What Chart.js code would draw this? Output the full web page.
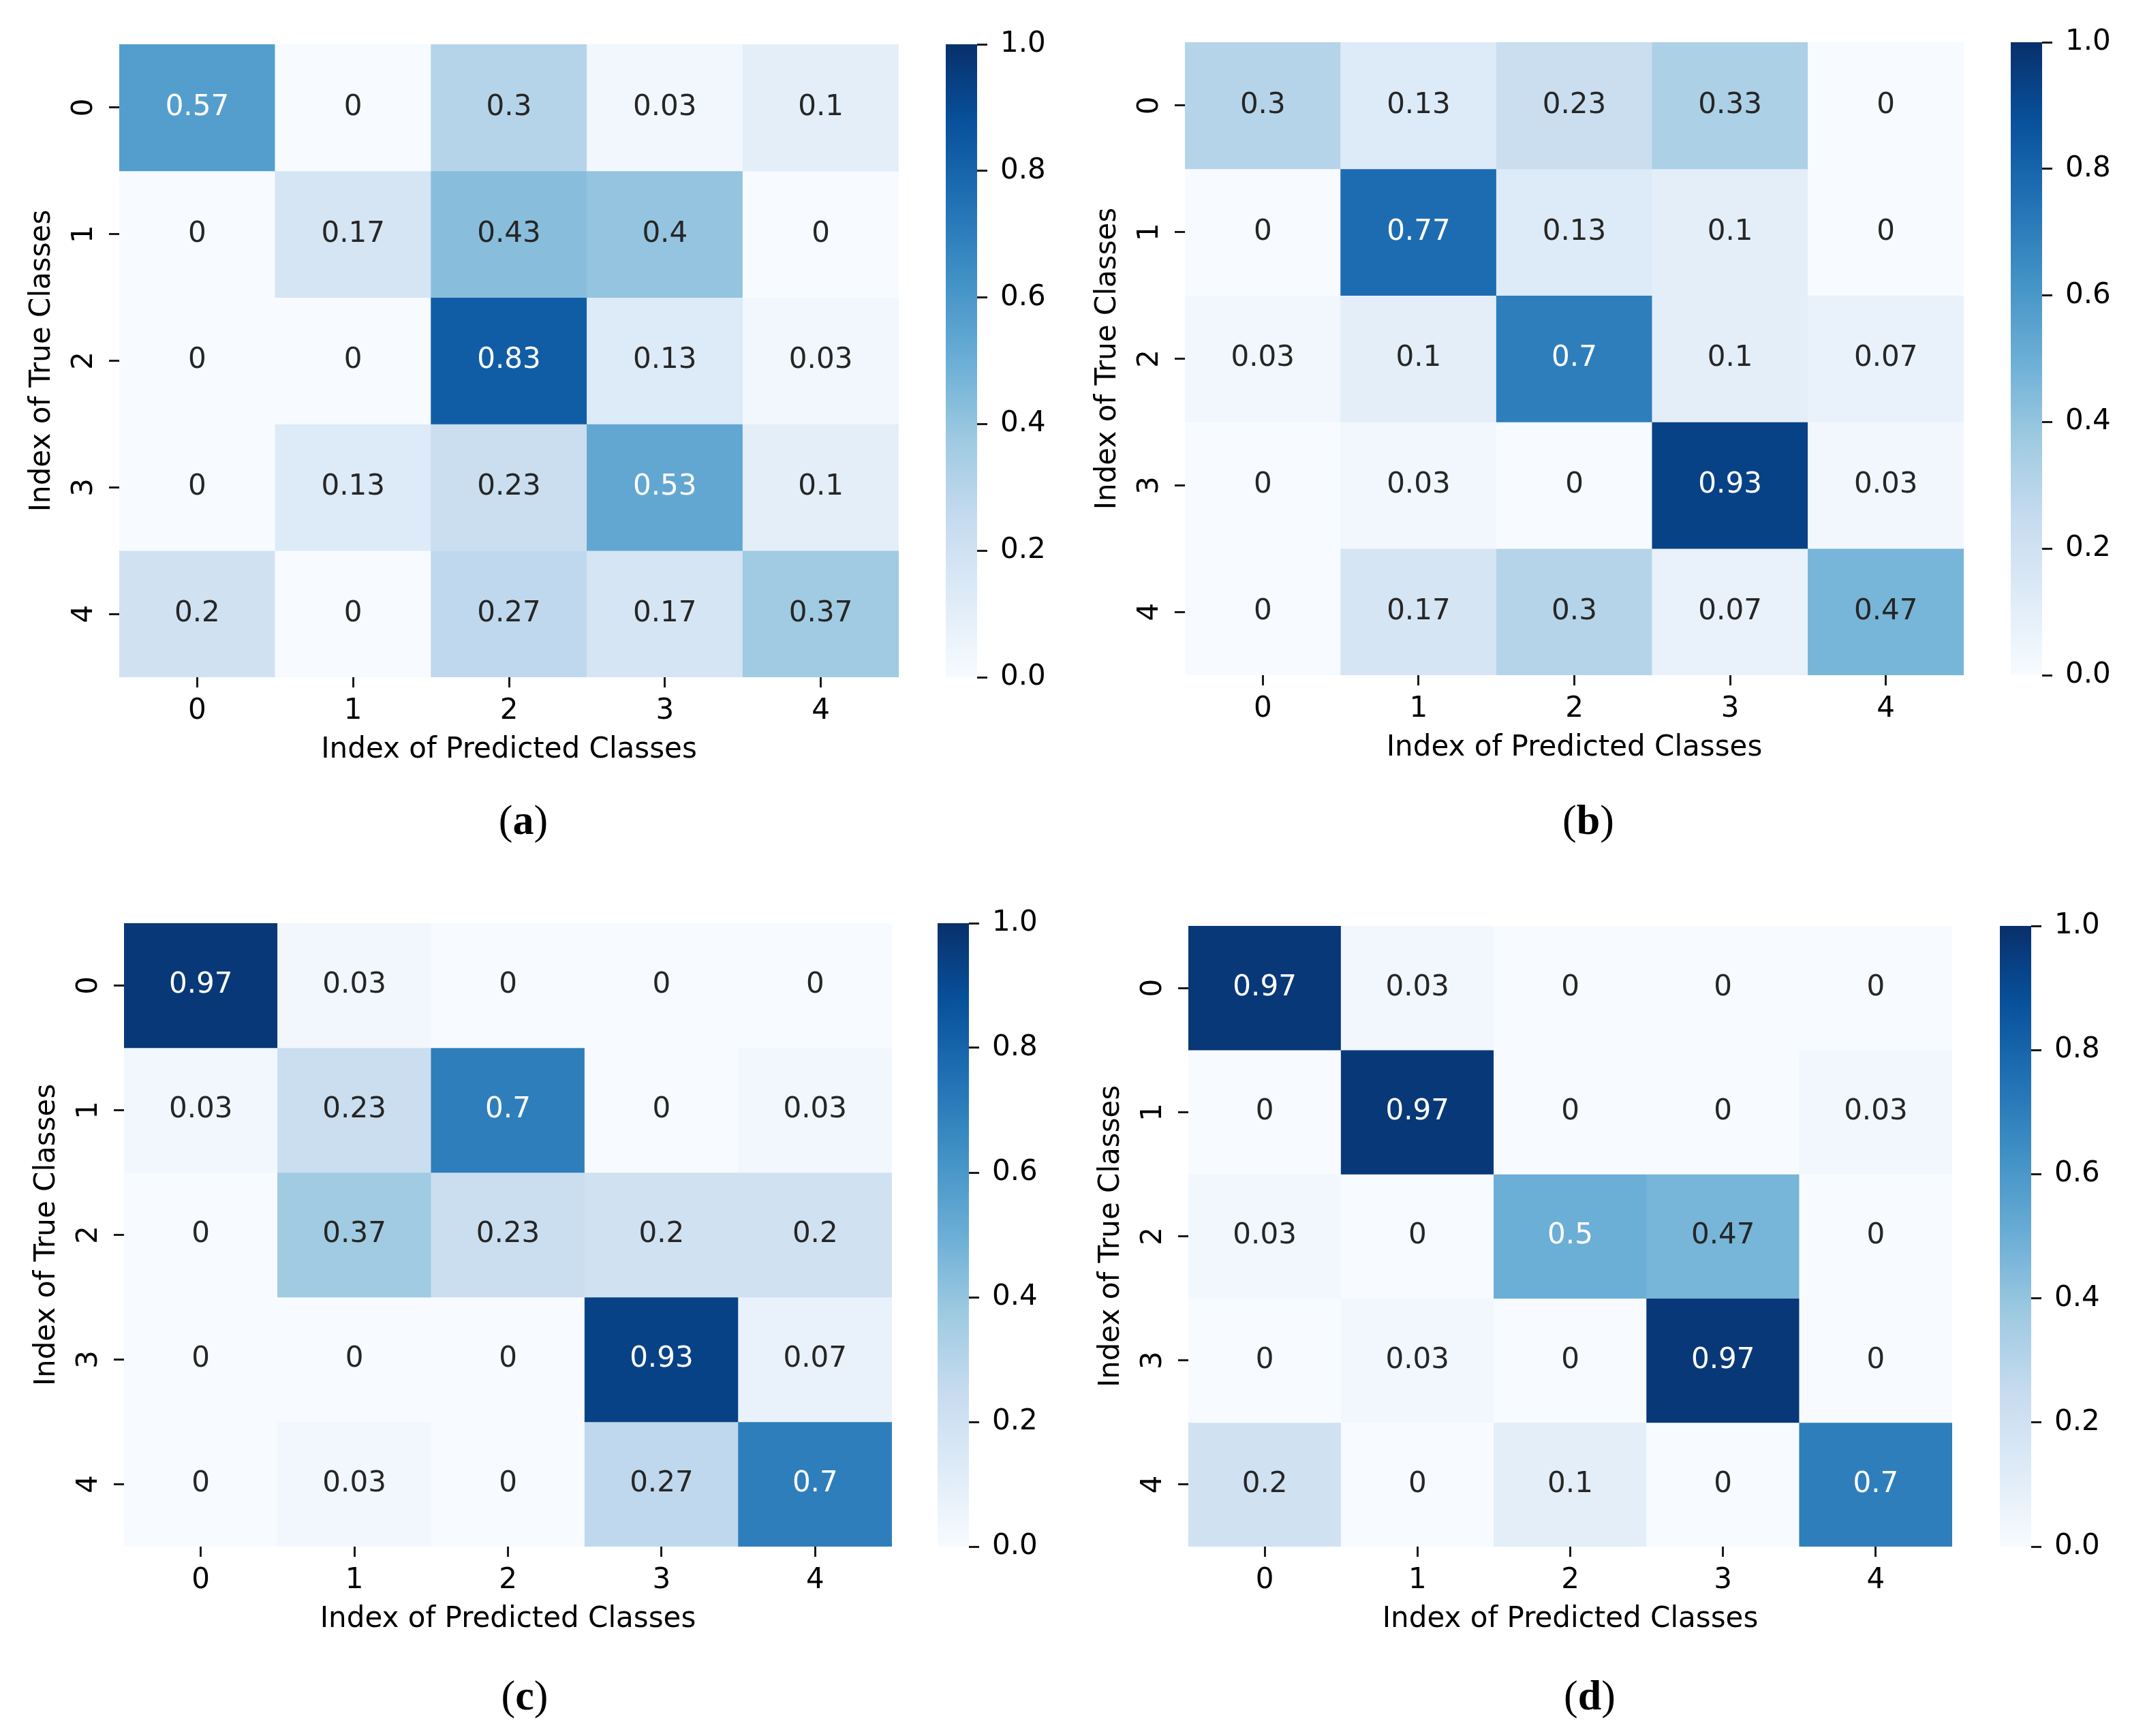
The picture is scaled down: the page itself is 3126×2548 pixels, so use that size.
<!DOCTYPE html>
<html>
<head>
<meta charset="utf-8">
<script src="https://cdn.jsdelivr.net/npm/chart.js@4.4.1/dist/chart.umd.min.js"></script>
<style>
  html, body { margin: 0; padding: 0; background: #fff; }
  #page { position: relative; width: 3126px; height: 2548px; background: #fff; overflow: hidden; }
  canvas { position: absolute; }
  .cap { position: absolute; font-family: "Liberation Serif", "DejaVu Serif", serif; font-size: 62px; color: #000;
         transform: translate(-50%, -50%); white-space: nowrap; line-height: 1; }
  .cap b { font-weight: bold; }
</style>
</head>
<body>
<div id="page"></div>
<script>
// class indices on both axes
const classLabels = ['0', '1', '2', '3', '4'];
const colorbarTicks = [0, 0.2, 0.4, 0.6, 0.8, 1.0];
const xTitle = 'Index of Predicted Classes';
const yTitle = 'Index of True Classes';

// confusion matrices, rows = true class, cols = predicted class
const matrixA = [
  [0.57, 0, 0.3, 0.03, 0.1],
  [0, 0.17, 0.43, 0.4, 0],
  [0, 0, 0.83, 0.13, 0.03],
  [0, 0.13, 0.23, 0.53, 0.1],
  [0.2, 0, 0.27, 0.17, 0.37]
];
const matrixB = [
  [0.3, 0.13, 0.23, 0.33, 0],
  [0, 0.77, 0.13, 0.1, 0],
  [0.03, 0.1, 0.7, 0.1, 0.07],
  [0, 0.03, 0, 0.93, 0.03],
  [0, 0.17, 0.3, 0.07, 0.47]
];
const matrixC = [
  [0.97, 0.03, 0, 0, 0],
  [0.03, 0.23, 0.7, 0, 0.03],
  [0, 0.37, 0.23, 0.2, 0.2],
  [0, 0, 0, 0.93, 0.07],
  [0, 0.03, 0, 0.27, 0.7]
];
const matrixD = [
  [0.97, 0.03, 0, 0, 0],
  [0, 0.97, 0, 0, 0.03],
  [0.03, 0, 0.5, 0.47, 0],
  [0, 0.03, 0, 0.97, 0],
  [0.2, 0, 0.1, 0, 0.7]
];
const captions = ['a', 'b', 'c', 'd'];

// where each panel sits on the page
const layout = [
  { heat: { x: 175, y: 65, w: 1144, h: 929 }, bar: { x: 1388, w: 46 }, cap: { x: 768, y: 1203 } },
  { heat: { x: 1739, y: 62, w: 1143, h: 929 }, bar: { x: 2951, w: 46 }, cap: { x: 2331, y: 1203 } },
  { heat: { x: 182, y: 1355, w: 1127, h: 915 }, bar: { x: 1376, w: 46 }, cap: { x: 770, y: 2488 } },
  { heat: { x: 1744, y: 1359, w: 1121, h: 911 }, bar: { x: 2935, w: 46 }, cap: { x: 2333, y: 2488 } }
];

// matplotlib "Blues"
const blues = ['#f7fbff', '#deebf7', '#c6dbef', '#9ecae1', '#6baed6', '#4292c6', '#2171b5', '#08519c', '#08306b'];

function hexToRgb(h) {
  return [parseInt(h.substr(1, 2), 16), parseInt(h.substr(3, 2), 16), parseInt(h.substr(5, 2), 16)];
}
function cmap(v) {
  v = Math.max(0, Math.min(1, v));
  const pos = v * (blues.length - 1);
  const i = Math.min(Math.floor(pos), blues.length - 2);
  const t = pos - i;
  const a = hexToRgb(blues[i]), b = hexToRgb(blues[i + 1]);
  return [0, 1, 2].map(k => Math.round(a[k] + (b[k] - a[k]) * t));
}
function rgbStr(c) { return 'rgb(' + c.join(',') + ')'; }
function textColor(v) {
  // same rule seaborn uses for annotations
  const lin = cmap(v).map(c => {
    c = c / 255;
    return c <= 0.03928 ? c / 12.92 : Math.pow((c + 0.055) / 1.055, 2.4);
  });
  const lum = 0.2126 * lin[0] + 0.7152 * lin[1] + 0.0722 * lin[2];
  return lum > 0.408 ? '#262626' : '#ffffff';
}

const font = { family: 'DejaVu Sans', size: 42 };
const tickGrid = {
  drawOnChartArea: false, drawTicks: true, tickLength: 15, tickWidth: 3, tickColor: '#1a1a1a'
};
// keep the plot area exactly where layout puts it
function noPad(s) { s.paddingTop = 0; s.paddingBottom = 0; s.paddingLeft = 0; s.paddingRight = 0; }

const annotate = {
  id: 'annotate',
  afterDatasetsDraw(chart) {
    const ctx = chart.ctx;
    const m = chart.options.plugins.annotate.matrix;
    const xs = chart.scales.x, ys = chart.scales.y;
    ctx.save();
    ctx.font = '42px "DejaVu Sans"';
    ctx.textAlign = 'center';
    ctx.textBaseline = 'middle';
    m.forEach((row, i) => {
      row.forEach((v, j) => {
        ctx.fillStyle = textColor(v);
        ctx.fillText(String(v), xs.getPixelForValue(j), ys.getPixelForValue(i));
      });
    });
    ctx.restore();
  }
};

function addCanvas(x, y, w, h) {
  const c = document.createElement('canvas');
  c.width = w; c.height = h;
  c.style.left = x + 'px'; c.style.top = y + 'px';
  c.style.width = w + 'px'; c.style.height = h + 'px';
  document.getElementById('page').appendChild(c);
  return c;
}

function drawHeatmap(matrix, L) {
  const axisW = 160, axisH = 150, padT = 10, padR = 10;
  const cv = addCanvas(L.heat.x - axisW, L.heat.y - padT, L.heat.w + axisW + padR, L.heat.h + padT + axisH);
  const datasets = matrix.map((row, i) => ({
    data: row.map(() => [i - 0.5, i + 0.5]),
    backgroundColor: row.map(v => rgbStr(cmap(v))),
    borderWidth: 0,
    barPercentage: 1,
    categoryPercentage: 1,
    grouped: false
  }));
  new Chart(cv, {
    type: 'bar',
    data: { labels: classLabels, datasets: datasets },
    plugins: [annotate],
    options: {
      responsive: false, animation: false, devicePixelRatio: 1,
      layout: { padding: { left: 0, top: padT, right: padR, bottom: 0 } },
      plugins: { legend: { display: false }, tooltip: { enabled: false }, annotate: { matrix: matrix } },
      scales: {
        x: {
          type: 'category', offset: true,
          grid: Object.assign({ offset: false }, tickGrid),
          border: { display: false },
          ticks: { color: '#000', font: font, padding: 10, maxRotation: 0 },
          title: { display: true, text: xTitle, color: '#000', font: font, padding: { top: 0, bottom: 18 } },
          afterFit: s => { s.height = axisH; noPad(s); }
        },
        y: {
          type: 'linear', min: -0.5, max: 4.5, reverse: true,
          grid: tickGrid,
          border: { display: false },
          afterBuildTicks: s => { s.ticks = classLabels.map((_, i) => ({ value: i })); },
          ticks: {
            color: '#000', font: font, padding: 23, minRotation: 90, maxRotation: 90, crossAlign: 'center',
            callback: v => classLabels[v]
          },
          title: { display: true, text: yTitle, color: '#000', font: font, padding: { top: 22, bottom: 0 } },
          afterFit: s => { s.width = axisW; noPad(s); }
        }
      }
    }
  });
}

function drawColorbar(L) {
  const padV = 30, axisW = 150;
  const cv = addCanvas(L.bar.x, L.heat.y - padV, L.bar.w + axisW, L.heat.h + 2 * padV);
  new Chart(cv, {
    type: 'bar',
    data: {
      labels: [''],
      datasets: [{
        data: [[0, 1]],
        barPercentage: 1, categoryPercentage: 1, borderWidth: 0,
        backgroundColor: ctx => {
          const a = ctx.chart.chartArea;
          if (!a) return blues[4];
          const g = ctx.chart.ctx.createLinearGradient(0, a.bottom, 0, a.top);
          blues.forEach((c, i) => g.addColorStop(i / (blues.length - 1), c));
          return g;
        }
      }]
    },
    options: {
      responsive: false, animation: false, devicePixelRatio: 1,
      layout: { padding: { left: 0, top: padV, right: 0, bottom: padV } },
      plugins: { legend: { display: false }, tooltip: { enabled: false } },
      scales: {
        x: { display: false, offset: true },
        y: {
          position: 'right', min: 0, max: 1,
          grid: tickGrid,
          border: { display: false },
          afterBuildTicks: s => { s.ticks = colorbarTicks.map(v => ({ value: v })); },
          ticks: { color: '#000', font: font, padding: 19, callback: v => v.toFixed(1) },
          afterFit: s => { s.width = axisW; noPad(s); }
        }
      }
    }
  });
}

[matrixA, matrixB, matrixC, matrixD].forEach((m, k) => {
  const L = layout[k];
  drawHeatmap(m, L);
  drawColorbar(L);
  const d = document.createElement('div');
  d.className = 'cap';
  d.style.left = L.cap.x + 'px';
  d.style.top = L.cap.y + 'px';
  d.innerHTML = '(<b>' + captions[k] + '</b>)';
  document.getElementById('page').appendChild(d);
});
</script>
</body>
</html>
